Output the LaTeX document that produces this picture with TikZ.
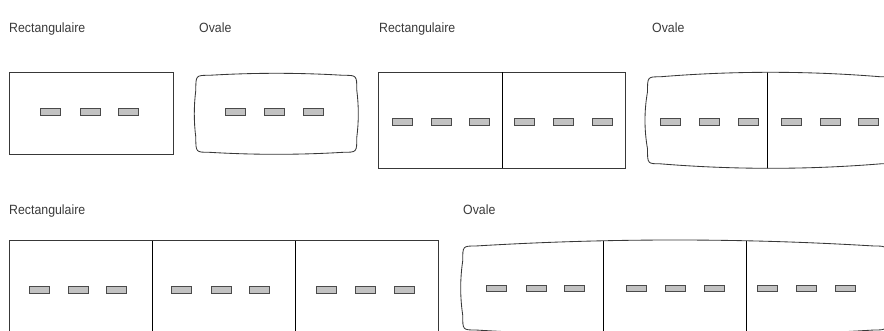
\documentclass[tikz,border=0pt]{standalone}
\usepackage{fontspec}
\setmainfont[FakeStretch=0.92]{Liberation Sans}
\definecolor{frameC}{HTML}{383838}
\definecolor{barFill}{HTML}{C2C2C2}
\definecolor{barLine}{HTML}{4A4A4A}
\definecolor{txtC}{HTML}{3A3A3A}
\newcommand{\setoval}[7]{%
 \pgfmathsetmacro{\ovL}{#1}\pgfmathsetmacro{\ovR}{#2}\pgfmathsetmacro{\ovT}{#3}\pgfmathsetmacro{\ovB}{#4}%
 \pgfmathsetmacro{\ovr}{#5}\pgfmathsetmacro{\ovd}{#6}\pgfmathsetmacro{\ove}{#7}%
 \pgfmathsetmacro{\ovax}{\ovL+\ovr}\pgfmathsetmacro{\ovbx}{\ovR-\ovr}%
 \pgfmathsetmacro{\ovcax}{\ovax+(\ovbx-\ovax)/3}\pgfmathsetmacro{\ovcbx}{\ovbx-(\ovbx-\ovax)/3}%
 \pgfmathsetmacro{\ovte}{\ovT+\ovd}\pgfmathsetmacro{\ovtc}{\ovT-\ovd/3}%
 \pgfmathsetmacro{\ovbe}{\ovB-\ovd}\pgfmathsetmacro{\ovbc}{\ovB+\ovd/3}%
 \pgfmathsetmacro{\ovly}{\ovte+\ovr}\pgfmathsetmacro{\ovmy}{\ovbe-\ovr}%
 \pgfmathsetmacro{\ovlcy}{\ovly+(\ovmy-\ovly)/3}\pgfmathsetmacro{\ovmcy}{\ovmy-(\ovmy-\ovly)/3}%
 \pgfmathsetmacro{\ovle}{\ovL+\ove}\pgfmathsetmacro{\ovlc}{\ovL-\ove/3}%
 \pgfmathsetmacro{\ovre}{\ovR-\ove}\pgfmathsetmacro{\ovrc}{\ovR+\ove/3}%
}
\def\ovalpath{(\ovax,\ovte) .. controls (\ovcax,\ovtc) and (\ovcbx,\ovtc) .. (\ovbx,\ovte)
 .. controls (\ovre,\ovte) .. (\ovre,\ovly)
 .. controls (\ovrc,\ovlcy) and (\ovrc,\ovmcy) .. (\ovre,\ovmy)
 .. controls (\ovre,\ovbe) .. (\ovbx,\ovbe)
 .. controls (\ovcbx,\ovbc) and (\ovcax,\ovbc) .. (\ovax,\ovbe)
 .. controls (\ovle,\ovbe) .. (\ovle,\ovmy)
 .. controls (\ovlc,\ovmcy) and (\ovlc,\ovlcy) .. (\ovle,\ovly)
 .. controls (\ovle,\ovte) .. (\ovax,\ovte) -- cycle}
\begin{document}
\begin{tikzpicture}[x=1pt,y=-1pt,
  frame/.style={draw=frameC,line width=0.85pt},
  divider/.style={draw=black,line width=0.85pt},
  bar/.style={draw=barLine,fill=barFill,line width=0.6pt,minimum width=20pt,minimum height=6.6pt,inner sep=0pt,outer sep=0pt},
  lbl/.style={text=txtC,font=\fontsize{13.4}{16}\selectfont,inner sep=0pt,anchor=base west}]
\useasboundingbox (0,0) rectangle (884,331);
\clip (0,0) rectangle (884,331);
% labels
\node[lbl] (t1) at (9,33) {Rectangulaire};
\node[lbl] (t2) at (199,33) {Ovale};
\node[lbl] (t3) at (379,33) {Rectangulaire};
\node[lbl] (t4) at (652,33) {Ovale};
\node[lbl] (t5) at (9,215) {Rectangulaire};
\node[lbl] (t6) at (463,215) {Ovale};
% rectangle 1
\draw[frame] (9.5,72.3) rectangle (173.3,154.3);
% oval 1
\setoval{194.3}{358.3}{73.3}{154.3}{15}{2}{1.5}
\draw[frame] \ovalpath;
% rectangle 2
\draw[frame] (378.3,72.3) rectangle (625,168.3);
\draw[divider] (502.3,72.3) -- (502.3,168.3);
% oval 2
\setoval{645}{896}{72.3}{168.3}{15}{4.5}{2.5}
\begin{scope}
\clip \ovalpath;
\draw[divider] (767.7,60) -- (767.7,180);
\end{scope}
\draw[frame] \ovalpath;
% rectangle 3
\draw[frame] (9.3,240.7) -- (438.7,240.7);
\draw[frame] (9.3,240.7) -- (9.3,340);
\draw[frame] (438.7,240.7) -- (438.7,340);
\draw[divider] (152.3,240.7) -- (152.3,340);
\draw[divider] (295.3,240.7) -- (295.3,340);
% oval 3
\setoval{460.7}{889}{240}{336}{15}{6}{2}
\begin{scope}
\clip \ovalpath;
\draw[divider] (603.3,230) -- (603.3,345);
\draw[divider] (746.3,230) -- (746.3,345);
\end{scope}
\draw[frame] \ovalpath;
% bars
\foreach \x [count=\i] in {50.7,90,128.3} \node[bar] (ra\i) at (\x,111.7) {};
\foreach \x [count=\i] in {235.5,274.3,313} \node[bar] (oa\i) at (\x,111.7) {};
\foreach \x [count=\i] in {402.3,441,479.3,524,563.3,602.3} \node[bar] (rb\i) at (\x,121.7) {};
\foreach \x [count=\i] in {670.3,709.3,748,791,830,868.7} \node[bar] (ob\i) at (\x,121.7) {};
\foreach \x [count=\i] in {39.2,78.2,116.5,181.5,221.2,259.5,326.2,365.5,404.5} \node[bar] (rc\i) at (\x,290) {};
\foreach \x [count=\i] in {496.7,536.2,574.5,636.5,675.5,714.5,767.2,806.5,845.5} \node[bar] (oc\i) at (\x,288.3) {};
\end{tikzpicture}
\end{document}
